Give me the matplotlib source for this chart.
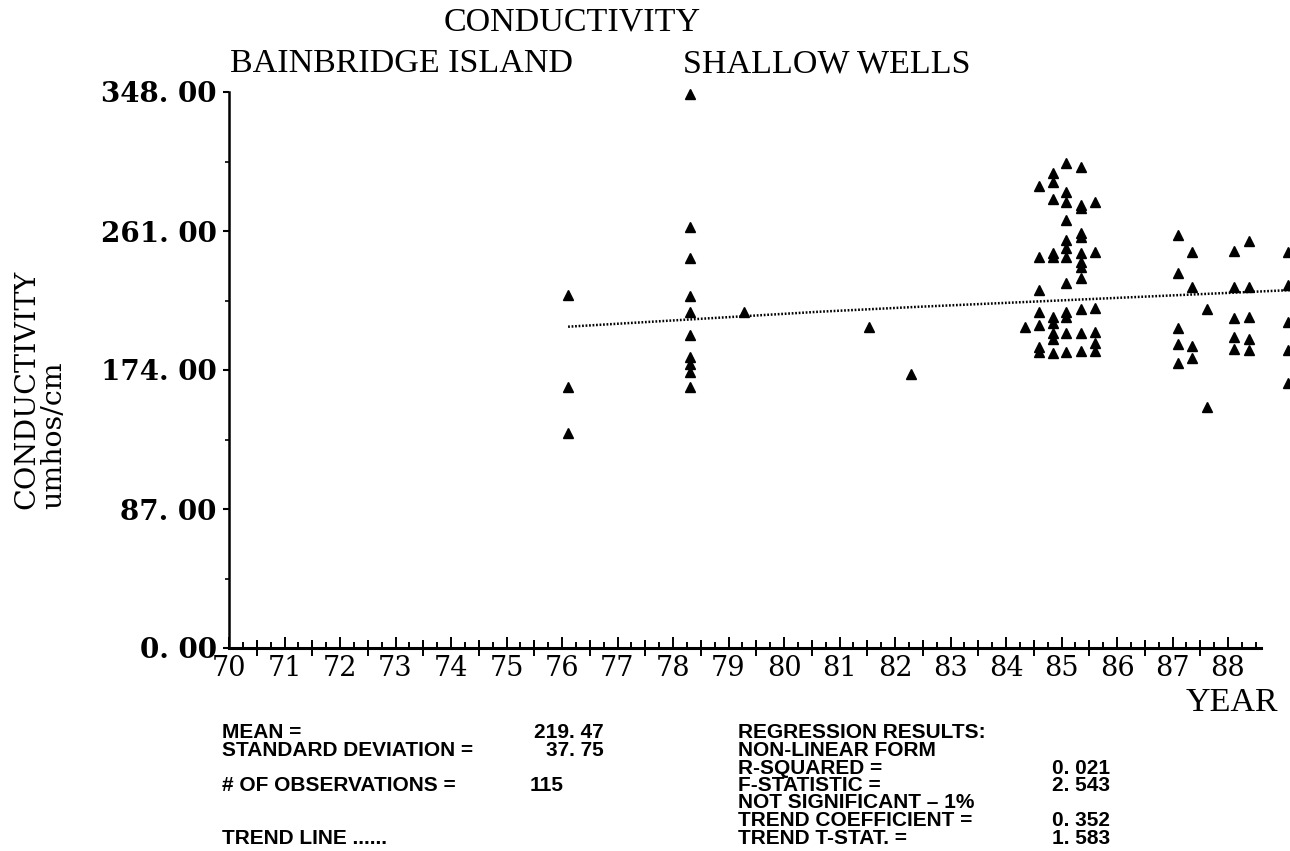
import matplotlib
matplotlib.use("Agg")
import matplotlib.pyplot as plt
from matplotlib.ticker import FixedLocator, FuncFormatter

# Sampling dates (decimal year, 19xx) and the readings taken at each one, umhos/cm
sample_years = [76.11, 78.31, 79.28, 81.54, 82.28, 84.34, 84.59, 84.84, 85.09,
                85.35, 85.60, 87.10, 87.36, 87.62, 88.11, 88.37, 89.08]
readings = [
    [220.9, 163.3, 134.5],
    [346.7, 263.6, 243.9, 220.3, 210.5, 195.9, 182.3, 177.9, 173.0, 163.6],
    [210.5],
    [201.1],
    [171.5],
    [200.7],
    [289.1, 244.5, 224.0, 210.5, 202.1, 188.5, 185.4],
    [297.0, 291.8, 280.8, 247.0, 244.5, 207.3, 203.6, 196.9, 193.2, 184.4],
    [303.3, 285.5, 279.3, 267.8, 255.3, 250.1, 244.9, 228.2, 210.5, 207.3, 197.3, 185.4],
    [301.2, 277.2, 275.2, 259.9, 257.4, 247.0, 241.8, 238.6, 231.3, 211.9, 197.3, 186.0],
    [279.3, 248.0, 212.7, 198.0, 190.7, 186.0],
    [258.4, 234.9, 200.1, 190.2, 178.5],
    [248.0, 226.1, 189.0, 181.3],
    [211.9, 150.6],
    [248.4, 226.1, 206.3, 194.4, 186.9],
    [254.9, 226.1, 206.9, 193.6, 186.5],
    [248.0, 227.2, 204.2, 186.5, 165.6],
]

# fitted trend (non-linear form)
trend_years = [76.11, 80.65, 82.45, 89.12]
trend_values = [201.1, 210.5, 213.6, 224.0]

y_ticks = [0, 87, 174, 261, 348]
year_labels = list(range(70, 89))

summary_labels = ["MEAN =", "STANDARD DEVIATION =", "# OF OBSERVATIONS ="]
summary_values = ["219. 47", "37. 75", "115"]
regression_labels = ["REGRESSION RESULTS:", "NON-LINEAR FORM", "R-SQUARED =",
                     "F-STATISTIC =", "NOT SIGNIFICANT \u2013 1%",
                     "TREND COEFFICIENT =", "TREND T-STAT. ="]
regression_values = ["", "", "0. 021", "2. 543", "", "0. 352", "1. 583"]

W, H = 1290, 851


def fx(px):
    return px / W


def fy(py):
    return 1 - py / H


xs = [yr for yr, vals in zip(sample_years, readings) for _ in vals]
ys = [v for vals in readings for v in vals]

fig = plt.figure(figsize=(W / 100, H / 100), dpi=100)
# the plotting frame runs past the right edge of the sheet
ax = fig.add_axes([fx(229), fy(648), fx(1110), 556 / H])
ax.set_xlim(70, 90)
ax.set_ylim(0, 348)
ax.patch.set_visible(False)

ax.plot(xs, ys, linestyle="none", marker="^", markersize=7.5, color="black", clip_on=False)
ax.plot(trend_years, trend_values, color="black", linewidth=1.8, linestyle=(0, (0.7, 0.7)))

for side in ("top", "right"):
    ax.spines[side].set_visible(False)
ax.spines["bottom"].set_linewidth(2.2)
ax.spines["left"].set_linewidth(1.8)
ax.spines["bottom"].set_bounds(70, 88.6)

ax.yaxis.set_major_locator(FixedLocator(y_ticks))
ax.yaxis.set_minor_locator(FixedLocator([v + 43.5 for v in y_ticks[:-1]]))
ax.yaxis.set_major_formatter(FuncFormatter(lambda v, _: f"{v:.2f}".replace(".", ". ")))
ax.tick_params(axis="y", which="major", direction="out", length=4, width=1.5, pad=5)
ax.tick_params(axis="y", which="minor", direction="out", length=3, width=1.2)

ax.xaxis.set_major_locator(FixedLocator(year_labels))
ax.xaxis.set_minor_locator(FixedLocator([70 + 0.25 * i for i in range(75)]))
ax.set_xticklabels([str(y) for y in year_labels])
ax.tick_params(axis="x", which="major", direction="in", length=8, width=1.4, pad=5)
ax.tick_params(axis="x", which="minor", direction="in", length=4, width=1.4)
# taller marks at the half years as well
ax.plot([yr + 0.5 for yr in year_labels[:-1]], [0] * (len(year_labels) - 1),
        linestyle="none", marker="|", markersize=11, markeredgewidth=1.4,
        color="black", clip_on=False)
for lab in ax.get_yticklabels():
    lab.set_fontfamily("DejaVu Serif")
    lab.set_fontweight("bold")
    lab.set_fontsize(20)
for lab in ax.get_xticklabels():
    lab.set_fontfamily("DejaVu Serif")
    lab.set_fontsize(19.5)

# titles
title_font = dict(family="Liberation Serif", size=24.5, color="black")
fig.text(fx(572), fy(22), "CONDUCTIVITY", ha="center", va="center", **title_font)
fig.text(fx(230), fy(64), "BAINBRIDGE ISLAND", ha="left", va="center", **title_font)
fig.text(fx(683), fy(64), "SHALLOW WELLS", ha="left", va="center", **title_font)
fig.text(fx(1278), fy(703), "YEAR", ha="right", va="center", **title_font)

fig.text(fx(40), fy(509), "CONDUCTIVITY\numhos/cm", rotation=90, ha="center", va="bottom",
         multialignment="left", linespacing=1.0, family="DejaVu Serif", size=20.5)

# summary statistics block
stat_font = dict(family="Liberation Sans", size=15, weight="bold", color="black")
row_y = [733 + 17.5 * i for i in range(7)]
for lab, val, row in zip(summary_labels, summary_values, [0, 1, 3]):
    fig.text(fx(222), fy(row_y[row]), lab, ha="left", va="center", **stat_font)
    if val == "115":
        fig.text(fx(530), fy(row_y[row]), val, ha="left", va="center", **stat_font)
    else:
        fig.text(fx(604), fy(row_y[row]), val, ha="right", va="center", **stat_font)
fig.text(fx(222), fy(row_y[6]), "TREND LINE ......", ha="left", va="center", **stat_font)

for row, (lab, val) in enumerate(zip(regression_labels, regression_values)):
    fig.text(fx(738), fy(row_y[row]), lab, ha="left", va="center", **stat_font)
    if val:
        fig.text(fx(1052), fy(row_y[row]), val, ha="left", va="center", **stat_font)

fig.savefig("out.png", dpi=100, facecolor="white")
